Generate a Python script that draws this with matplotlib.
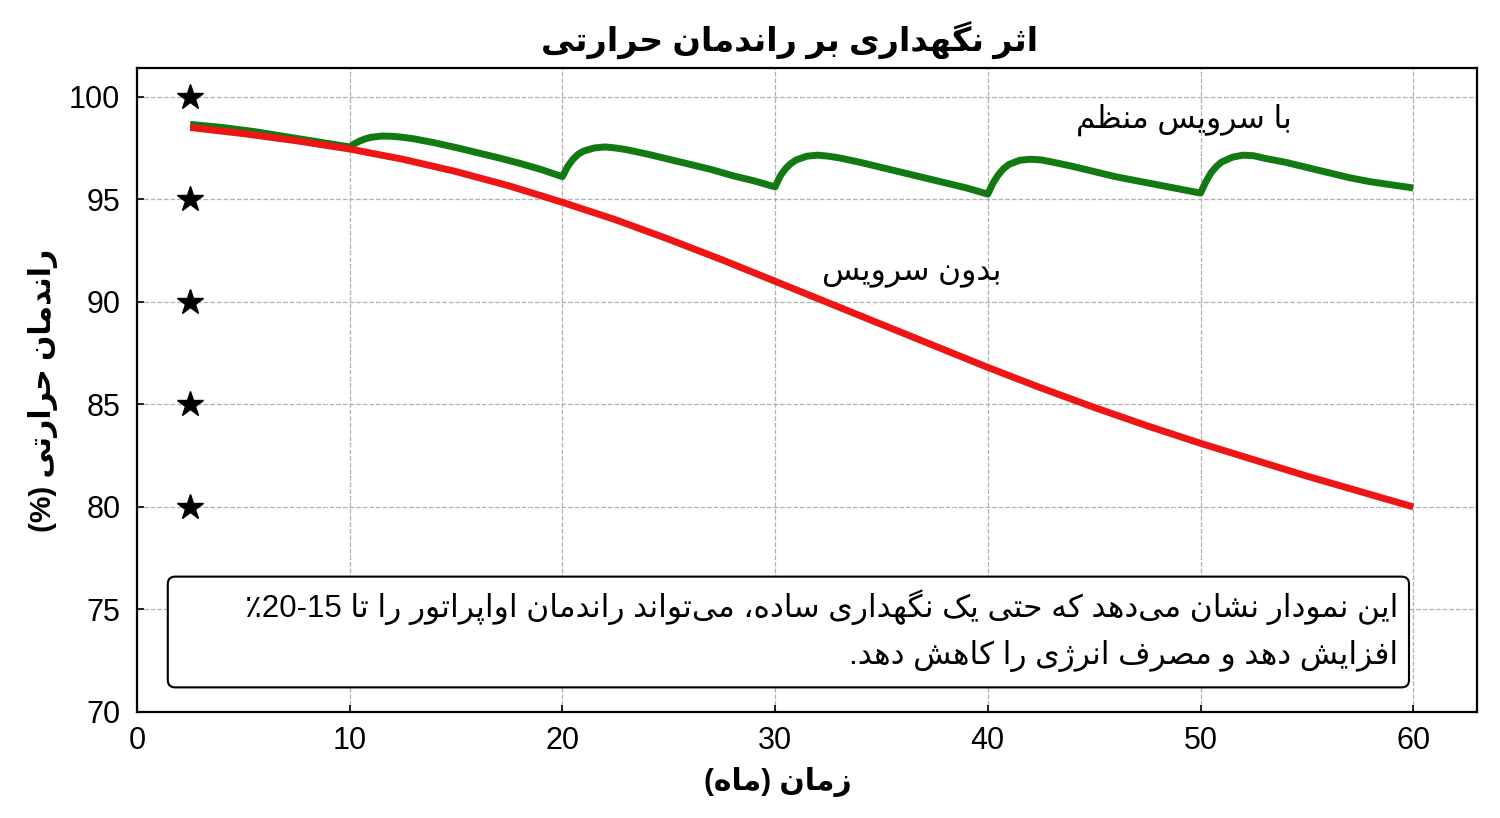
import re
import numpy as np
import matplotlib
matplotlib.use('Agg')
import matplotlib.pyplot as plt
from matplotlib.patches import FancyBboxPatch

plt.rcParams['font.family'] = ['Liberation Sans', 'DejaVu Sans']

# data
months_no_service = [2.5, 5, 7.5, 10, 12.5, 15, 17.5, 20, 22.5, 25, 27.5, 30,
                     32.5, 35, 37.5, 40, 42.5, 45, 47.5, 50, 52.5, 55, 57.5, 60]
eff_no_service = [98.5, 98.2, 97.85, 97.45, 96.95, 96.35, 95.65, 94.85, 94.0, 93.05, 92.05, 91.0,
                  89.95, 88.9, 87.85, 86.8, 85.8, 84.85, 83.95, 83.1, 82.3, 81.5, 80.75, 80.0]

months_service = [2.5, 4, 5.5, 7, 8.5, 10,
                  10.25, 10.5, 10.75, 11, 11.5, 12, 12.5, 13, 14, 15, 16, 17, 18, 19, 20,
                  20.25, 20.5, 20.75, 21, 21.5, 22, 22.5, 23, 24, 25, 26, 27, 28, 29, 30,
                  30.25, 30.5, 30.75, 31, 31.5, 32, 32.5, 33, 34, 35, 36, 37, 38, 39, 40,
                  40.25, 40.5, 40.75, 41, 41.5, 42, 42.5, 43, 44, 45, 46, 47, 48, 49, 50,
                  50.25, 50.5, 50.75, 51, 51.5, 52, 52.5, 53, 54, 55, 56, 57, 58, 59, 60]
eff_service = [98.65, 98.5, 98.3, 98.05, 97.8, 97.55,
               97.72, 97.85, 97.95, 98.02, 98.08, 98.07, 98.02, 97.95, 97.75, 97.52, 97.27, 97.02, 96.75, 96.45, 96.1,
               96.6, 96.95, 97.2, 97.35, 97.5, 97.55, 97.5, 97.42, 97.2, 96.95, 96.7, 96.45, 96.15, 95.9, 95.6,
               96.15, 96.5, 96.75, 96.92, 97.1, 97.15, 97.1, 97.02, 96.8, 96.55, 96.3, 96.05, 95.8, 95.55, 95.25,
               95.8, 96.2, 96.5, 96.7, 96.9, 96.95, 96.92, 96.82, 96.6, 96.35, 96.1, 95.9, 95.7, 95.5, 95.3,
               95.85, 96.3, 96.6, 96.82, 97.05, 97.15, 97.12, 97.0, 96.8, 96.55, 96.3, 96.05, 95.85, 95.7, 95.55]

star_x = [2.5, 2.5, 2.5, 2.5, 2.5]
star_y = [80, 85, 90, 95, 100]

title = 'اثر نگهداری بر راندمان حرارتی'
xlabel = 'زمان (ماه)'
ylabel = 'راندمان حرارتی (%)'
label_service = 'با سرویس منظم'
label_no_service = 'بدون سرویس'
note_lines = ['این نمودار نشان می\u200cدهد که حتی یک نگهداری ساده، می\u200cتواند راندمان اواپراتور را تا 15-20٪',
              'افزایش دهد و مصرف انرژی را کاهش دهد.']

# simple Persian shaping: presentation forms (iso, final, initial, medial)
FORMS = {
    'ا': ('\uFE8D', '\uFE8E'), 'د': ('\uFEA9', '\uFEAA'), 'ر': ('\uFEAD', '\uFEAE'),
    'ز': ('\uFEAF', '\uFEB0'), 'ژ': ('\uFB8A', '\uFB8B'), 'و': ('\uFEED', '\uFEEE'),
    'ب': ('\uFE8F', '\uFE90', '\uFE91', '\uFE92'), 'پ': ('\uFB56', '\uFB57', '\uFB58', '\uFB59'),
    'ت': ('\uFE95', '\uFE96', '\uFE97', '\uFE98'), 'ث': ('\uFE99', '\uFE9A', '\uFE9B', '\uFE9C'),
    'ح': ('\uFEA1', '\uFEA2', '\uFEA3', '\uFEA4'), 'س': ('\uFEB1', '\uFEB2', '\uFEB3', '\uFEB4'),
    'ش': ('\uFEB5', '\uFEB6', '\uFEB7', '\uFEB8'), 'ص': ('\uFEB9', '\uFEBA', '\uFEBB', '\uFEBC'),
    'ظ': ('\uFEC5', '\uFEC6', '\uFEC7', '\uFEC8'), 'ع': ('\uFEC9', '\uFECA', '\uFECB', '\uFECC'),
    'ف': ('\uFED1', '\uFED2', '\uFED3', '\uFED4'), 'ک': ('\uFB8E', '\uFB8F', '\uFB90', '\uFB91'),
    'گ': ('\uFB92', '\uFB93', '\uFB94', '\uFB95'), 'ل': ('\uFEDD', '\uFEDE', '\uFEDF', '\uFEE0'),
    'م': ('\uFEE1', '\uFEE2', '\uFEE3', '\uFEE4'), 'ن': ('\uFEE5', '\uFEE6', '\uFEE7', '\uFEE8'),
    'ه': ('\uFEE9', '\uFEEA', '\uFEEB', '\uFEEC'), 'ی': ('\uFBFC', '\uFBFD', '\uFBFE', '\uFBFF'),
}


def fa(text):
    chars = list(text)
    out = []
    for i, c in enumerate(chars):
        if c not in FORMS:
            if c != '\u200c':
                out.append(c)
            continue
        prev = chars[i - 1] if i > 0 else ''
        nxt = chars[i + 1] if i + 1 < len(chars) else ''
        jp = prev in FORMS and len(FORMS[prev]) == 4
        jn = len(FORMS[c]) == 4 and nxt in FORMS
        f = FORMS[c]
        if jp and jn:
            out.append(f[3])
        elif jp:
            out.append(f[1])
        elif jn:
            out.append(f[2])
        else:
            out.append(f[0])
    tokens = re.findall(r'[0-9]+|.', ''.join(out))
    mirror = {'(': ')', ')': '('}
    return ''.join(mirror.get(t, t) for t in reversed(tokens))


fig, ax = plt.subplots(figsize=(15, 8.18), dpi=100)
fig.subplots_adjust(left=0.0913, right=0.9847, top=0.9169, bottom=0.1296)

ax.plot(months_service, eff_service, color='#137a13', lw=5, solid_capstyle='butt',
        solid_joinstyle='round', zorder=3)
ax.plot(months_no_service, eff_no_service, color='#ee1515', lw=5, solid_capstyle='butt',
        solid_joinstyle='round', zorder=3)
ax.plot(star_x, star_y, ls='none', marker='*', color='black', ms=19, zorder=4)

ax.text(49.2, 98.85, fa(label_service), ha='center', va='center', fontsize=22.5)
ax.text(36.4, 91.4, fa(label_no_service), ha='center', va='center', fontsize=22.5)

box = FancyBboxPatch((1.45, 71.2), 58.35, 5.4, boxstyle='round,pad=0,rounding_size=0.35',
                     fc='white', ec='black', lw=1.5, zorder=5)
ax.add_patch(box)
ax.text(59.3, 75.1, fa(note_lines[0]), ha='right', va='center', fontsize=22.5, zorder=6)
ax.text(59.3, 72.75, fa(note_lines[1]), ha='right', va='center', fontsize=22.5, zorder=6)

ax.set_xlim(0, 63)
ax.set_ylim(70, 101.4)
ax.set_xticks([0, 10, 20, 30, 40, 50, 60])
ax.set_yticks([70, 75, 80, 85, 90, 95, 100])
ax.tick_params(direction='in', length=5, width=1.2, labelsize=22)
ax.tick_params(axis='y', pad=12)
ax.tick_params(axis='x', pad=10)
ax.grid(True, ls='--', color='#b0b0b0', lw=0.9)
for s in ax.spines.values():
    s.set_linewidth(1.6)

ax.set_title(fa(title), fontsize=24, fontweight='bold', pad=12, x=0.487)
ax.set_xlabel(fa(xlabel), fontsize=21.5, fontweight='bold', labelpad=8, x=0.478)
ax.set_ylabel(fa(ylabel), fontsize=21.5, fontweight='bold', labelpad=8)

fig.savefig('out.png', dpi=100)
